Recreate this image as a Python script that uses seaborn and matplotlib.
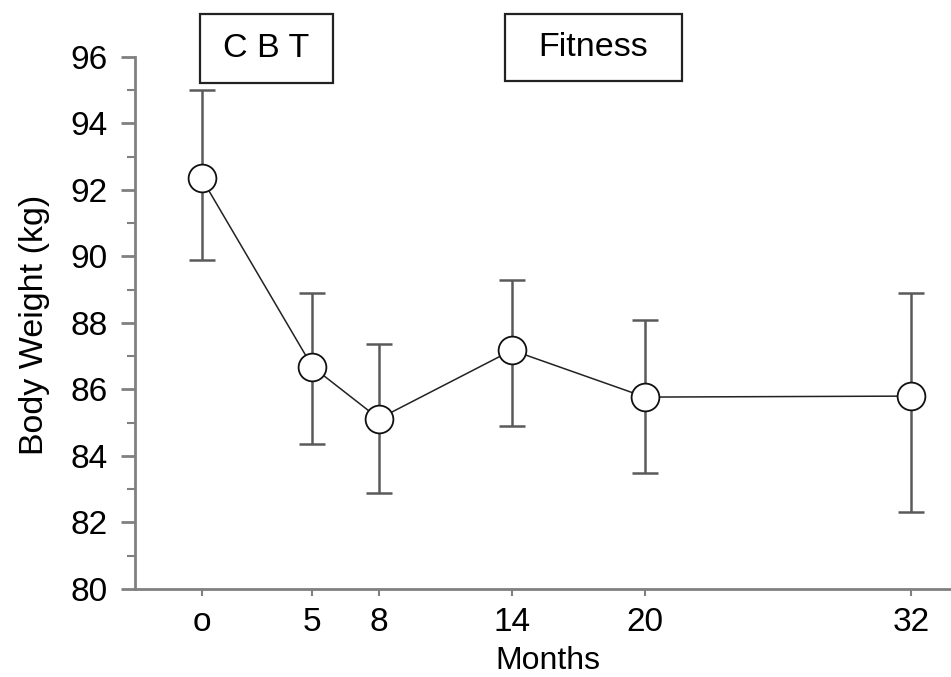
import matplotlib

matplotlib.use("Agg")
import matplotlib.pyplot as plt
import seaborn as sns
from matplotlib.patches import Rectangle
from matplotlib.ticker import MultipleLocator

months = [0, 5, 8, 14, 20, 32]
month_labels = ["o", "5", "8", "14", "20", "32"]
weight_mean = [92.35, 86.68, 85.12, 87.18, 85.77, 85.8]
weight_upper = [95.0, 88.9, 87.37, 89.3, 88.1, 88.9]
weight_lower = [89.9, 84.35, 82.9, 84.9, 83.5, 82.3]
phase_labels = ["C B T", "Fitness"]

AXIS_GRAY = "#808080"
BAR_GRAY = "#5a5a5a"

sns.set_theme(style="ticks")
plt.rcParams["font.family"] = ["Liberation Sans", "DejaVu Sans"]

fig = plt.figure(figsize=(9.51, 6.77), dpi=100)
ax = fig.add_axes([0.142, 0.130, 0.858, 0.786])

err_low = [m - lo for m, lo in zip(weight_mean, weight_lower)]
err_high = [hi - m for m, hi in zip(weight_mean, weight_upper)]
ax.errorbar(
    months, weight_mean, yerr=[err_low, err_high],
    fmt="none", ecolor=BAR_GRAY, elinewidth=1.8, capsize=9.5, capthick=1.8, zorder=2,
)
sns.lineplot(
    x=months, y=weight_mean, ax=ax, color="#222222", linewidth=1.1,
    marker="o", markersize=20, markerfacecolor="white",
    markeredgecolor="#111111", markeredgewidth=1.3, zorder=3,
)

ax.set_xlim(-3, 33.8)
ax.set_ylim(80, 96)
ax.set_xticks(months)
ax.set_xticklabels(month_labels)
ax.yaxis.set_major_locator(MultipleLocator(2))
ax.yaxis.set_minor_locator(MultipleLocator(1))

sns.despine(ax=ax)
for side in ["left", "bottom"]:
    ax.spines[side].set_color(AXIS_GRAY)
    ax.spines[side].set_linewidth(2.0)

ax.tick_params(axis="y", which="major", length=10, width=2, color=AXIS_GRAY,
               labelsize=24, pad=9.5, labelcolor="black")
ax.tick_params(axis="y", which="minor", length=6, width=1.5, color=AXIS_GRAY)
ax.tick_params(axis="x", which="major", length=5, width=1.5, color=AXIS_GRAY,
               labelsize=24, pad=8, labelcolor="black")

ax.set_xlabel("Months", fontsize=23, color="black")
ax.set_ylabel("Body Weight (kg)", fontsize=24.5, color="black")
ax.xaxis.set_label_coords(0.506, -0.108)
ax.yaxis.set_label_coords(-0.104, 0.497)

# treatment phase boxes above the plot
boxes = [(0.210, 0.877, 0.140, 0.102), (0.531, 0.880, 0.186, 0.099)]
for label, (x0, y0, w, h) in zip(phase_labels, boxes):
    fig.patches.append(
        Rectangle((x0, y0), w, h, transform=fig.transFigure, fill=False,
                  edgecolor="#222222", linewidth=1.6)
    )
    fig.text(x0 + w / 2, y0 + h / 2, label, ha="center", va="center",
             fontsize=24.5, color="black")

fig.savefig("out.png", dpi=100)
plt.close(fig)
